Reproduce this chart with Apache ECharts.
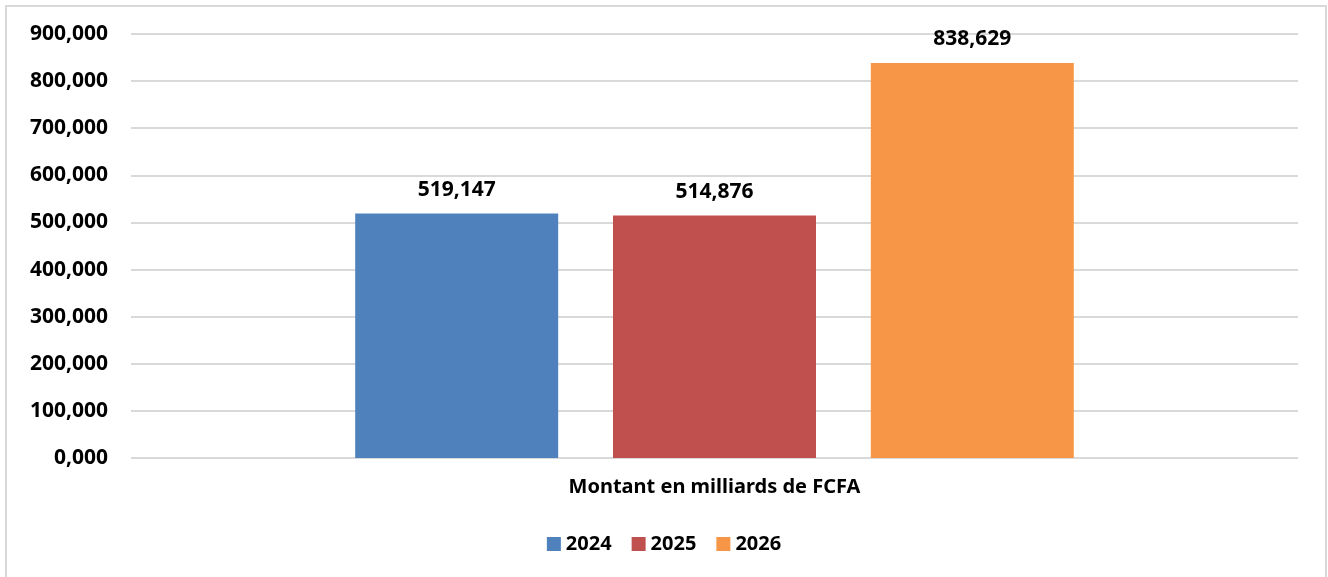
<!DOCTYPE html>
<html>
<head>
<meta charset="utf-8">
<script src="https://cdn.jsdelivr.net/npm/echarts@6/dist/echarts.min.js"></script>
<style>
  html, body { margin: 0; padding: 0; background: #fff; }
  #chart { width: 1328px; height: 577px; }
</style>
</head>
<body>
<div id="chart"></div>
<script>
const categories = ["Montant en milliards de FCFA"];
const years = ["2024", "2025", "2026"];
const values2024 = [519.147];
const values2025 = [514.876];
const values2026 = [838.629];
const colors = ["#4F81BD", "#C0504D", "#F79646"];

const fmt = (v) => Number(v).toFixed(3).replace(".", ",");
const font = "'Noto Sans', sans-serif";

const chartDom = document.getElementById("chart");
const myChart = echarts.init(chartDom);

const seriesData = [values2024, values2025, values2026];

const option = {
  animation: false,
  textStyle: { fontFamily: font },
  graphic: [
    {
      type: "rect",
      shape: { x: 6, y: 6, width: 1320, height: 580 },
      style: { fill: "none", stroke: "#d9d9d9", lineWidth: 2 },
      silent: true,
    },
  ],
  grid: { left: 131, right: 30, top: 34, bottom: 119 },
  legend: {
    data: years,
    top: 529,
    left: "center",
    itemWidth: 14,
    itemHeight: 14,
    itemGap: 20,
    icon: "rect",
    textStyle: { fontSize: 20, fontWeight: "bold", color: "#000", fontFamily: font },
  },
  xAxis: {
    type: "category",
    data: categories,
    axisLine: { show: false },
    axisTick: { show: false },
    axisLabel: {
      margin: 19,
      fontSize: 20,
      fontWeight: "bold",
      color: "#000",
      fontFamily: font,
    },
  },
  yAxis: {
    type: "value",
    min: 0,
    max: 900,
    interval: 100,
    axisLine: { show: false },
    axisTick: { show: false },
    splitLine: { lineStyle: { color: "#d9d9d9", width: 2 } },
    axisLabel: {
      margin: 23,
      fontSize: 21,
      fontWeight: "bold",
      color: "#000",
      fontFamily: font,
      formatter: fmt,
    },
  },
  series: years.map((y, i) => ({
    name: y,
    type: "bar",
    data: seriesData[i],
    barWidth: 203,
    barGap: "27%",
    itemStyle: { color: colors[i] },
    label: {
      show: true,
      position: "top",
      distance: 13,
      fontSize: 21,
      fontWeight: "bold",
      color: "#000",
      fontFamily: font,
      formatter: (p) => fmt(p.value),
    },
  })),
};

myChart.setOption(option);
window.addEventListener("resize", () => myChart.resize());
</script>
</body>
</html>
